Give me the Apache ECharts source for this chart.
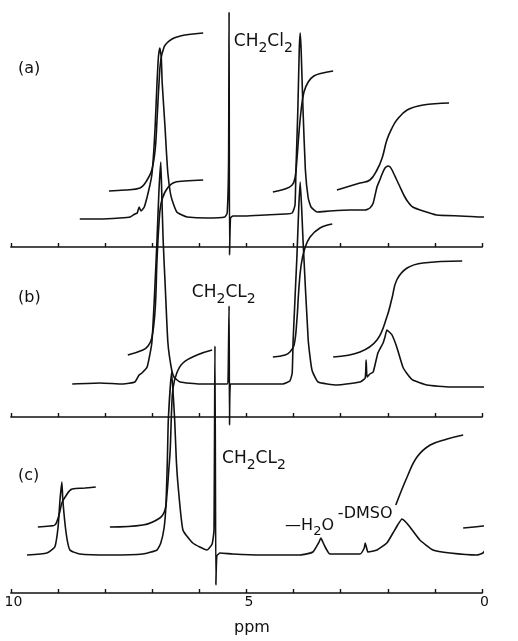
<!DOCTYPE html>
<html>
<head>
<meta charset="utf-8">
<script src="https://cdn.jsdelivr.net/npm/echarts@6/dist/echarts.min.js"></script>
<style>
  html, body { margin: 0; padding: 0; background: #fff; }
  #chart { width: 518px; height: 641px; }
</style>
</head>
<body>
<div id="chart"></div>
<script>
// Chemical shift ticks that carry a printed label (ppm)
const ppmTicks = [10, 5, 0];

// (a) spectrum and its integral traces: [ppm, intensity]
const spectrumA = [
  [8.54,28],[8.11,28],[7.69,29],[7.47,30],[7.37,33],[7.32,34],[7.28,40],[7.24,36],[7.17,40],[7.11,50],
  [7.05,62],[7.01,72],[6.97,95],[6.94,120],[6.90,164],[6.87,190],[6.84,199],[6.81,190],[6.79,164],
  [6.73,120],[6.70,95],[6.67,74],[6.62,55],[6.58,47],[6.48,35],[6.37,32],[6.26,30],[5.84,29],[5.46,30],
  [5.41,34],[5.38,87],[5.37,235],[5.36,-8],[5.34,29],[5.29,31],[5.03,31],[4.61,32],[4.18,33],[4.03,34],
  [3.97,42],[3.95,77],[3.91,137],[3.88,197],[3.86,214],[3.84,197],[3.80,137],[3.75,77],[3.69,49],
  [3.63,40],[3.50,35],[3.23,36],[2.80,37],[2.48,37],[2.38,39],[2.31,44],[2.23,60],[2.17,67],[2.12,73],
  [2.06,79],[2.00,81],[1.95,80],[1.91,77],[1.82,68],[1.74,60],[1.65,51],[1.57,45],[1.47,40],[1.25,36],
  [0.96,32],[0.47,31],[0.04,30],[-0.38,30]
];
const integralA1 = [[7.92,56],[7.58,57],[7.26,59],[7.11,67],[7.01,77],[6.94,97],[6.90,127],[6.86,162],
  [6.82,187],[6.75,200],[6.69,204],[6.58,208],[6.48,210],[6.31,212],[5.92,214]];
const integralA2 = [[4.44,55],[4.18,58],[4.03,62],[3.97,69],[3.93,87],[3.89,112],[3.84,137],[3.78,155],
  [3.69,165],[3.57,171],[3.38,174],[3.16,176]];
const integralA3 = [[3.08,57],[2.59,64],[2.38,67],[2.23,77],[2.12,89],[2.02,107],[1.91,119],[1.81,127],
  [1.59,137],[1.25,142],[0.70,144]];

// (b) spectrum and integrals
const spectrumB = [
  [8.70,33],[8.11,34],[7.62,33],[7.37,35],[7.28,42],[7.22,44],[7.11,50],[7.01,74],[6.95,125],[6.90,177],
  [6.86,225],[6.82,255],[6.80,225],[6.77,177],[6.72,125],[6.67,75],[6.60,50],[6.54,40],[6.41,35],
  [5.99,33],[5.41,33],[5.39,40],[5.37,111],[5.36,-8],[5.34,33],[4.93,33],[4.23,33],[4.08,36],[4.03,44],
  [4.01,77],[3.93,160],[3.89,210],[3.86,235],[3.83,210],[3.80,177],[3.69,77],[3.61,47],[3.48,35],
  [3.08,32],[2.59,35],[2.48,39],[2.46,57],[2.44,40],[2.38,43],[2.31,45],[2.21,64],[2.10,74],[2.06,80],
  [2.02,87],[1.97,85],[1.91,82],[1.81,70],[1.68,50],[1.57,42],[1.47,37],[1.17,32],[0.68,30],[-0.55,30]
];
const integralB1 = [[7.52,62],[7.20,67],[7.09,71],[7.01,79],[6.94,107],[6.90,157],[6.86,192],[6.82,212],
  [6.73,225],[6.56,234],[6.31,236],[5.92,237]];
const integralB2 = [[4.44,60],[4.18,62],[4.08,65],[3.99,72],[3.93,97],[3.89,127],[3.84,152],[3.76,169],
  [3.65,180],[3.44,189],[3.18,193]];
const integralB3 = [[3.16,60],[2.59,65],[2.23,77],[2.02,100],[1.91,119],[1.81,137],[1.59,149],[1.25,154],
  [0.42,156]];

// (c) spectrum and integrals
const spectrumC = [
  [9.66,38],[9.24,40],[9.07,46],[9.00,66],[8.96,93],[8.92,111],[8.90,93],[8.83,60],[8.75,43],[8.54,39],
  [7.90,38],[7.20,39],[6.90,43],[6.82,50],[6.75,65],[6.71,88],[6.68,133],[6.66,173],[6.59,221],
  [6.525,173],[6.49,133],[6.45,106],[6.35,63],[6.14,50],[5.84,43],[5.73,49],[5.69,63],[5.67,247],
  [5.65,8],[5.63,37],[5.56,40],[5.29,39],[4.71,38],[3.86,38],[3.59,41],[3.47,50],[3.42,55],[3.38,51],
  [3.33,46],[3.23,39],[2.59,39],[2.50,45],[2.48,50],[2.45,45],[2.42,41],[2.23,43],[2.02,50],[1.89,60],
  [1.79,68],[1.70,74],[1.62,71],[1.53,66],[1.32,53],[1.04,43],[0.68,40],[0.11,38],[-0.02,40],
  [-0.13,46],[-0.20,42],[-0.28,39],[-0.76,38]
];
const integralC1 = [[9.43,66],[9.17,67],[9.07,68],[9.00,75],[8.96,82],[8.92,90],[8.85,96],[8.70,104],
  [8.43,105],[8.20,106]];
const integralC2 = [[7.90,66],[7.20,68],[6.84,75],[6.73,83],[6.69,98],[6.65,123],[6.62,143],[6.59,183],
  [6.56,205],[6.48,220],[6.35,230],[6.05,238],[5.73,243]];
const integralC3 = [[1.83,88],[1.59,116],[1.38,136],[1.10,148],[0.74,154],[0.40,158]];
const integralC4 = [[0.40,65],[-0.02,67],[-0.17,69],[-0.28,73],[-0.45,75],[-0.74,76]];

const panels = [
  { spectrum: spectrumA, integrals: [integralA1, integralA2, integralA3] },
  { spectrum: spectrumB, integrals: [integralB1, integralB2, integralB3] },
  { spectrum: spectrumC, integrals: [integralC1, integralC2, integralC3, integralC4] }
];

// Annotations, anchored in each panel's own (ppm, intensity) frame
const annotations = [
  { panel: 0, at: [9.85, 176], text: '{p|(a)}' },
  { panel: 1, at: [9.85, 117], text: '{p|(b)}' },
  { panel: 2, at: [9.85, 115], text: '{p|(c)}' },
  { panel: 0, at: [5.27, 203], text: '{m|CH}{s|2}{m|Cl}{s|2}' },
  { panel: 1, at: [6.16, 122], text: '{m|CH}{s|2}{m|CL}{s|2}' },
  { panel: 2, at: [5.52, 132], text: '{m|CH}{s|2}{m|CL}{s|2}' },
  { panel: 2, at: [4.18, 65],  text: '{n|—H}{t|2}{n|O}' },
  { panel: 2, at: [3.06, 77],  text: '{n|-DMSO}' }
];

const INK = '#111';
const FONT = '"DejaVu Sans", "Open Sans", sans-serif';
const LINE_W = 1.6;

const chart = echarts.init(document.getElementById('chart'), null, { renderer: 'canvas' });

const gridTops = [7, 177, 353];
const option = {
  animation: false,
  backgroundColor: '#fff',
  grid: gridTops.map(t => ({ left: 11, right: 36, top: t, height: 240 })),
  xAxis: gridTops.map((t, i) => ({
    gridIndex: i,
    type: 'value',
    min: 0,
    max: 10,
    interval: 1,
    inverse: true,
    axisLine: { show: true, onZero: false, lineStyle: { color: INK, width: 1.7 } },
    axisTick: { show: true, inside: true, length: 4, lineStyle: { color: INK, width: 1.4 } },
    splitLine: { show: false },
    axisLabel: {
      show: i === 2,
      color: INK,
      fontFamily: FONT,
      fontSize: 14,
      margin: 2,
      padding: [0, 0, 0, 5],
      formatter: v => (ppmTicks.includes(v) ? String(v) : '')
    },
    name: i === 2 ? 'ppm' : '',
    nameLocation: 'middle',
    nameGap: 27,
    nameTextStyle: { color: INK, fontFamily: FONT, fontSize: 16, padding: [0, 0, 0, 11] }
  })),
  yAxis: gridTops.map((t, i) => ({ gridIndex: i, type: 'value', min: 0, max: 240, show: false })),
  series: []
};

panels.forEach((p, i) => {
  option.series.push({
    type: 'line',
    xAxisIndex: i,
    yAxisIndex: i,
    data: p.spectrum,
    showSymbol: false,
    clip: false,
    smooth: 0.15,
    lineStyle: { color: INK, width: LINE_W }
  });
  p.integrals.forEach(curve => {
    option.series.push({
      type: 'line',
      xAxisIndex: i,
      yAxisIndex: i,
      data: curve,
      showSymbol: false,
      clip: false,
      smooth: 0.4,
      lineStyle: { color: INK, width: LINE_W }
    });
  });
});

chart.setOption(option);

const rich = {
  p: { fontSize: 16, fontFamily: FONT, lineHeight: 20, verticalAlign: 'top', fill: INK },
  m: { fontSize: 17, fontFamily: FONT, lineHeight: 22, verticalAlign: 'top', fill: INK },
  s: { fontSize: 14, fontFamily: FONT, lineHeight: 14, verticalAlign: 'bottom', fill: INK },
  n: { fontSize: 16, fontFamily: FONT, lineHeight: 21, verticalAlign: 'top', fill: INK },
  t: { fontSize: 13, fontFamily: FONT, lineHeight: 13, verticalAlign: 'bottom', fill: INK }
};

chart.setOption({
  graphic: annotations.map(a => {
    const [px, py] = chart.convertToPixel({ gridIndex: a.panel }, a.at);
    return {
      type: 'text',
      x: px,
      y: py,
      silent: true,
      style: { text: a.text, rich: rich, fill: INK, align: 'left', verticalAlign: 'middle' }
    };
  })
});
</script>
</body>
</html>
